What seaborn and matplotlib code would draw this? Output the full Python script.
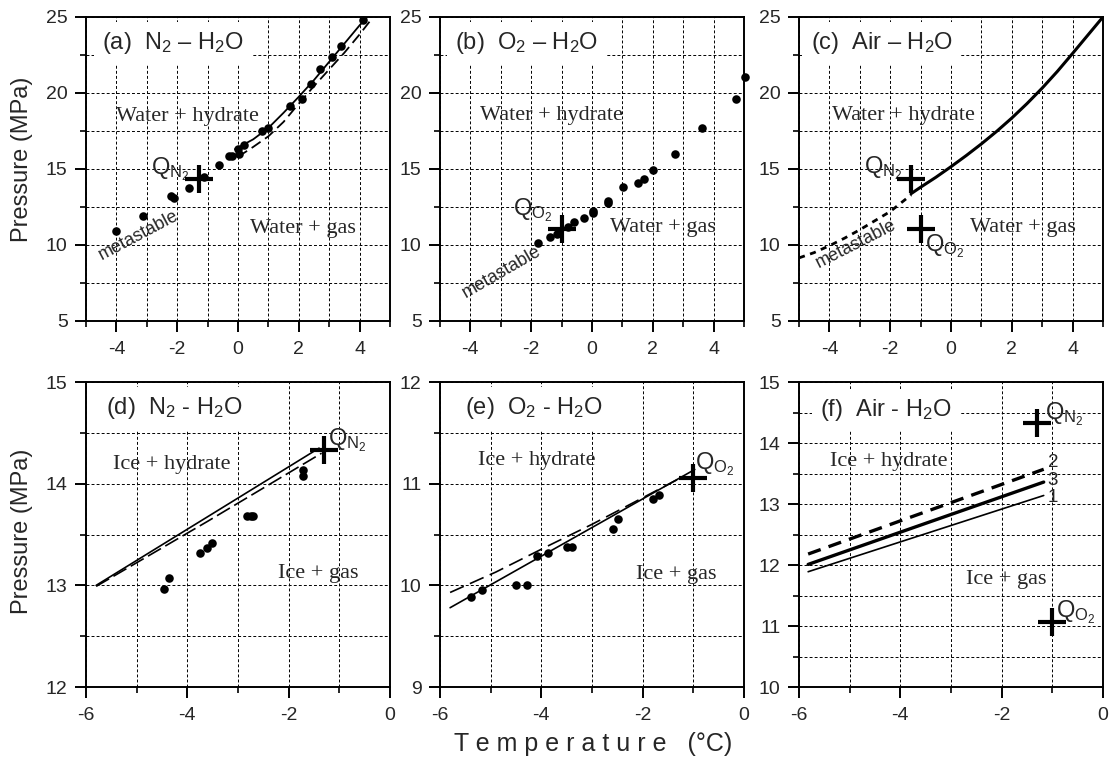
import numpy as np
import matplotlib
matplotlib.use("Agg")
import matplotlib.pyplot as plt
from matplotlib.ticker import MultipleLocator
import seaborn as sns

sns.set_style("ticks")
plt.rcParams['font.family'] = ['Liberation Sans', 'DejaVu Sans']
plt.rcParams['mathtext.fontset'] = 'custom'
plt.rcParams['mathtext.rm'] = 'Liberation Sans'
plt.rcParams['mathtext.it'] = 'Liberation Sans:italic'
plt.rcParams['mathtext.bf'] = 'Liberation Sans:bold'
plt.rcParams['axes.unicode_minus'] = False

# ---------------- data ----------------
# (a) N2 - H2O, water region
a_T = [-4.01, -3.11, -2.20, -2.11, -1.60, -1.12, -0.61, -0.31, -0.21, -0.01, 0.02, 0.20,
       0.80, 0.98, 1.70, 2.11, 2.40, 2.71, 3.09, 3.40, 4.10]
a_P = [10.92, 11.89, 13.20, 13.11, 13.73, 14.47, 15.26, 15.88, 15.88, 16.32, 16.00, 16.58,
       17.50, 17.72, 19.17, 19.61, 20.61, 21.58, 22.37, 23.07, 24.82]
a_solid_T = [-0.1, 0.5, 1.0, 1.5, 2.0, 2.5, 3.0, 3.5, 4.0, 4.25]
a_solid_P = [16.3, 16.95, 17.7, 18.7, 19.75, 20.85, 22.05, 23.25, 24.45, 25.0]
a_dash_T = [0.0, 0.5, 1.0, 1.5, 2.0, 2.5, 3.0, 3.5, 4.0, 4.35]
a_dash_P = [15.8, 16.45, 17.15, 18.1, 19.3, 20.45, 21.55, 22.65, 23.85, 24.75]

# (b) O2 - H2O, water region
b_T = [-1.77, -1.38, -1.16, -0.78, -0.58, -0.27, 0.02, 0.02, 0.52, 0.52, 1.02, 1.51,
       1.72, 2.02, 2.72, 3.62, 4.73, 5.02]
b_P = [10.15, 10.50, 10.75, 11.18, 11.49, 11.80, 12.10, 12.24, 12.78, 12.87, 13.80, 14.06,
       14.34, 14.93, 15.96, 17.70, 19.63, 21.07]

# (c) Air - H2O, water region
c_solid_T = [-1.31, -1.0, -0.5, 0.0, 0.5, 1.0, 1.5, 2.0, 2.5, 3.0, 3.5, 4.0, 4.5, 5.0]
c_solid_P = [13.38, 13.8, 14.45, 15.15, 15.88, 16.65, 17.47, 18.35, 19.3, 20.32, 21.42,
             22.6, 23.8, 25.0]
c_meta_T = [-5.0, -4.5, -4.0, -3.5, -3.0, -2.5, -2.0, -1.31]
c_meta_P = [9.15, 9.5, 9.95, 10.45, 11.0, 11.6, 12.2, 13.3]

# (d) N2 - H2O, ice region
d_T = [-4.46, -4.36, -3.76, -3.61, -3.51, -2.82, -2.75, -2.70, -1.71, -1.71]
d_P = [12.96, 13.07, 13.32, 13.37, 13.42, 13.68, 13.68, 13.68, 14.13, 14.08]
d_solid_T = [-5.8, -1.4]
d_solid_P = [13.0, 14.35]
d_dash_T = [-5.8, -3.6, -1.35]
d_dash_P = [12.99, 13.63, 14.30]

# (e) O2 - H2O, ice region
e_T = [-5.39, -5.18, -4.49, -4.29, -4.08, -3.875, -3.49, -3.39, -2.58, -2.48, -1.79, -1.68]
e_P = [9.89, 9.95, 10.00, 10.00, 10.29, 10.32, 10.38, 10.38, 10.55, 10.65, 10.85, 10.89]
e_solid_T = [-5.8, -0.97]
e_solid_P = [9.78, 11.14]
e_dash_T = [-5.8, -4.9, -3.9, -3.0, -1.2]
e_dash_P = [9.93, 10.13, 10.38, 10.60, 11.07]

# (f) Air - H2O, ice region: curves 1, 2, 3
f_T = [-5.82, -1.17]
f1_P = [11.89, 13.14]
f2_P = [12.18, 13.57]
f3_P = [12.01, 13.36]
f_labels = ['2', '3', '1']
f_label_P = [13.68, 13.39, 13.10]

# quadruple points
QN2 = (-1.30, 14.33)
QO2 = (-1.00, 11.06)

# ---------------- figure ----------------
W, H = 1113, 774
fig = plt.figure(figsize=(W / 100, H / 100), dpi=100)

lefts = [0.0773, 0.3953, 0.7179]
wid = 0.2731
top_b, top_h = 0.5853, 0.3928
bot_b, bot_h = 0.1124, 0.3940

serif = 'Liberation Serif'
GRID_DASH = (0, (3, 2.2))


def style_axes(ax, xlim, ylim, xmaj, xmin, ymaj, ymin):
    ax.set_xlim(*xlim)
    ax.set_ylim(*ylim)
    ax.xaxis.set_major_locator(MultipleLocator(xmaj))
    ax.xaxis.set_minor_locator(MultipleLocator(xmin))
    ax.yaxis.set_major_locator(MultipleLocator(ymaj))
    ax.yaxis.set_minor_locator(MultipleLocator(ymin))
    ax.grid(which='both', color='k', linestyle=GRID_DASH, linewidth=0.7)
    ax.set_axisbelow(True)
    for s in ax.spines.values():
        s.set_linewidth(1.4)
        s.set_color('k')
        s.set_zorder(5)
    ax.tick_params(which='major', direction='out', length=7.7, width=1.4,
                   labelsize=14, pad=5.5, color='k')
    ax.tick_params(which='minor', direction='out', length=4.3, width=1.2, color='k')
    ax.tick_params(axis='x', which='major', pad=6.5)
    ax.set_xlabel('')
    ax.set_ylabel('')


def title(ax, x, y, s):
    ax.text(x, y, s, transform=ax.transAxes, fontsize=17, ha='left', va='center',
            zorder=6, bbox=dict(boxstyle='square,pad=0.35', fc='white', ec='none'))


def qlabel(ax, x, y, sub):
    ax.text(x, y, r'Q$_{\mathrm{%s}_2}$' % sub, fontsize=17, ha='left',
            va='baseline', zorder=6)


def cross(ax, pt):
    ax.plot([pt[0]], [pt[1]], marker='+', markersize=20, mew=3.0, color='k',
            linestyle='none', zorder=7, clip_on=False)


def dots(ax, T, P):
    sns.scatterplot(x=T, y=P, ax=ax, color='k', s=38, linewidth=0, zorder=6,
                    clip_on=False, legend=False)


def line(ax, T, P, lw, ls='-'):
    sns.lineplot(x=T, y=P, ax=ax, color='k', linewidth=lw, linestyle=ls,
                 sort=False, estimator=None, zorder=4, legend=False)


# ---- (a) ----
ax = fig.add_axes([lefts[0], top_b, wid, top_h])
line(ax, a_solid_T, a_solid_P, 1.3)
line(ax, a_dash_T, a_dash_P, 1.3, (0, (6, 3)))
dots(ax, a_T, a_P)
cross(ax, QN2)
style_axes(ax, (-5, 5), (5, 25), 2, 1, 5, 2.5)
title(ax, 0.052, 0.913, r'(a)  N$_2$ – H$_2$O')
ax.text(-4.0, 18.18, 'Water + hydrate', family=serif, fontsize=16)
ax.text(0.39, 10.77, 'Water + gas', family=serif, fontsize=16)
qlabel(ax, -2.85, 14.67, 'N')
ax.text(-3.28, 10.62, 'metastable', fontsize=13, rotation=28, ha='center',
        va='center', rotation_mode='anchor')

# ---- (b) ----
ax = fig.add_axes([lefts[1], top_b, wid, top_h])
dots(ax, b_T, b_P)
cross(ax, QO2)
style_axes(ax, (-5, 5), (5, 25), 2, 1, 5, 2.5)
title(ax, 0.049, 0.913, r'(b)  O$_2$ – H$_2$O')
ax.text(-3.68, 18.2, 'Water + hydrate', family=serif, fontsize=16)
ax.text(0.59, 10.88, 'Water + gas', family=serif, fontsize=16)
qlabel(ax, -2.59, 11.97, 'O')
ax.text(-2.97, 8.24, 'metastable', fontsize=13, rotation=30, ha='center',
        va='center', rotation_mode='anchor')

# ---- (c) ----
ax = fig.add_axes([lefts[2], top_b, wid, top_h])
line(ax, c_solid_T, c_solid_P, 2.2)
line(ax, c_meta_T, c_meta_P, 2.0, (0, (2.2, 2.0)))
cross(ax, QN2)
cross(ax, QO2)
style_axes(ax, (-5, 5), (5, 25), 2, 1, 5, 2.5)
title(ax, 0.038, 0.913, r'(c)  Air – H$_2$O')
ax.text(-3.93, 18.2, 'Water + hydrate', family=serif, fontsize=16)
ax.text(0.61, 10.88, 'Water + gas', family=serif, fontsize=16)
qlabel(ax, -2.87, 14.72, 'N')
qlabel(ax, -0.87, 9.56, 'O')
ax.text(-3.14, 10.07, 'metastable', fontsize=13, rotation=27, ha='center',
        va='center', rotation_mode='anchor')

# ---- (d) ----
ax = fig.add_axes([lefts[0], bot_b, wid, bot_h])
line(ax, d_solid_T, d_solid_P, 1.2)
line(ax, d_dash_T, d_dash_P, 1.2, (0, (9, 3)))
dots(ax, d_T, d_P)
cross(ax, QN2)
style_axes(ax, (-6, 0), (12, 15), 2, 1, 1, 0.5)
title(ax, 0.066, 0.914, r'(d)  N$_2$ - H$_2$O')
ax.text(-5.47, 14.14, 'Ice + hydrate', family=serif, fontsize=16)
ax.text(-2.22, 13.07, 'Ice + gas', family=serif, fontsize=16)
qlabel(ax, -1.22, 14.38, 'N')

# ---- (e) ----
ax = fig.add_axes([lefts[1], bot_b, wid, bot_h])
line(ax, e_solid_T, e_solid_P, 1.2)
line(ax, e_dash_T, e_dash_P, 1.2, (0, (9, 4)))
dots(ax, e_T, e_P)
cross(ax, QO2)
style_axes(ax, (-6, 0), (9, 12), 2, 1, 1, 0.5)
title(ax, 0.082, 0.914, r'(e)  O$_2$ - H$_2$O')
ax.text(-5.24, 11.18, 'Ice + hydrate', family=serif, fontsize=16)
ax.text(-2.13, 10.06, 'Ice + gas', family=serif, fontsize=16)
qlabel(ax, -0.97, 11.14, 'O')

# ---- (f) ----
ax = fig.add_axes([lefts[2], bot_b, wid, bot_h])
line(ax, f_T, f1_P, 1.2)
line(ax, f_T, f2_P, 2.4, (0, (4, 2.5)))
line(ax, f_T, f3_P, 2.4)
cross(ax, QN2)
cross(ax, QO2)
style_axes(ax, (-6, 0), (10, 15), 2, 1, 1, 0.5)
title(ax, 0.069, 0.908, r'(f)  Air - H$_2$O')
ax.text(-5.38, 13.63, 'Ice + hydrate', family=serif, fontsize=16)
ax.text(-2.70, 11.69, 'Ice + gas', family=serif, fontsize=16)
qlabel(ax, -1.15, 14.39, 'N')
qlabel(ax, -0.92, 11.14, 'O')
for lab, yv in zip(f_labels, f_label_P):
    ax.text(-1.09, yv, lab, fontsize=13.5, ha='left', va='center')

# ---- shared labels ----
fig.text(0.0195, 0.7946, 'Pressure (MPa)', rotation=90, fontsize=17,
         ha='center', va='center')
fig.text(0.0195, 0.313, 'Pressure (MPa)', rotation=90, fontsize=17,
         ha='center', va='center')
fig.text(0.533, 0.0388, 'T e m p e r a t u r e   (°C)', fontsize=18,
         ha='center', va='center')

fig.savefig('out.png', dpi=100)
